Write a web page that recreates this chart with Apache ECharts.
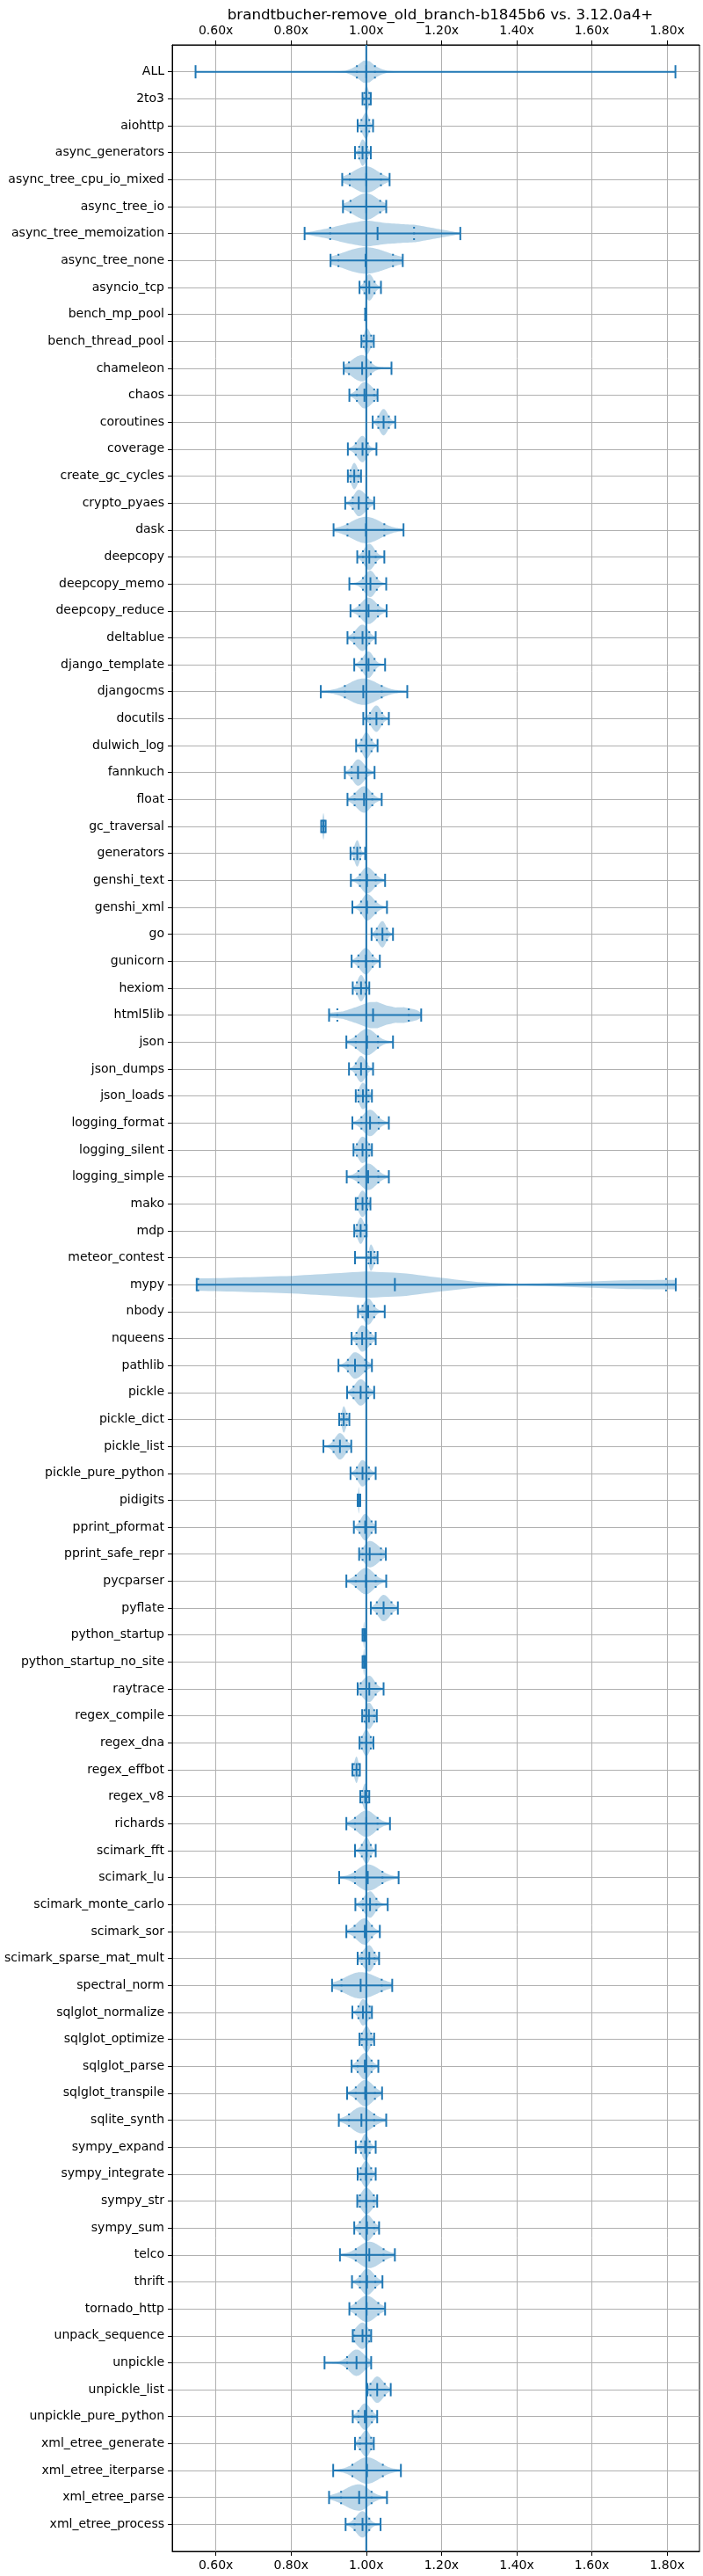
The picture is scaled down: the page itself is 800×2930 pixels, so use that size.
<!DOCTYPE html>
<html>
<head>
<meta charset="utf-8">
<script src="https://cdn.jsdelivr.net/npm/echarts@6/dist/echarts.min.js"></script>
<style>
  html, body { margin: 0; padding: 0; background: #fff; }
  #chart { width: 800px; height: 2930px; }
</style>
</head>
<body>
<div id="chart"></div>
<script>
// benchmark names, top to bottom
const benchmarks = [
  'ALL', '2to3', 'aiohttp', 'async_generators', 'async_tree_cpu_io_mixed', 'async_tree_io',
  'async_tree_memoization', 'async_tree_none', 'asyncio_tcp', 'bench_mp_pool', 'bench_thread_pool',
  'chameleon', 'chaos', 'coroutines', 'coverage', 'create_gc_cycles', 'crypto_pyaes', 'dask',
  'deepcopy', 'deepcopy_memo', 'deepcopy_reduce', 'deltablue', 'django_template', 'djangocms',
  'docutils', 'dulwich_log', 'fannkuch', 'float', 'gc_traversal', 'generators', 'genshi_text',
  'genshi_xml', 'go', 'gunicorn', 'hexiom', 'html5lib', 'json', 'json_dumps', 'json_loads',
  'logging_format', 'logging_silent', 'logging_simple', 'mako', 'mdp', 'meteor_contest', 'mypy',
  'nbody', 'nqueens', 'pathlib', 'pickle', 'pickle_dict', 'pickle_list', 'pickle_pure_python',
  'pidigits', 'pprint_pformat', 'pprint_safe_repr', 'pycparser', 'pyflate', 'python_startup',
  'python_startup_no_site', 'raytrace', 'regex_compile', 'regex_dna', 'regex_effbot', 'regex_v8',
  'richards', 'scimark_fft', 'scimark_lu', 'scimark_monte_carlo', 'scimark_sor',
  'scimark_sparse_mat_mult', 'spectral_norm', 'sqlglot_normalize', 'sqlglot_optimize',
  'sqlglot_parse', 'sqlglot_transpile', 'sqlite_synth', 'sympy_expand', 'sympy_integrate',
  'sympy_str', 'sympy_sum', 'telco', 'thrift', 'tornado_http', 'unpack_sequence', 'unpickle',
  'unpickle_list', 'unpickle_pure_python', 'xml_etree_generate', 'xml_etree_iterparse',
  'xml_etree_parse', 'xml_etree_process'
];

// per benchmark: extrema, low/high quantile and median (x faster)
const mins = [
  0.546, 0.990, 0.977, 0.970, 0.936, 0.938, 0.836, 0.905, 0.982, 0.997, 0.987,
  0.940, 0.955, 1.017, 0.951, 0.951, 0.944, 0.913, 0.976, 0.955, 0.958, 0.950,
  0.968, 0.879, 0.992, 0.973, 0.943, 0.950, 0.880, 0.958, 0.959, 0.963, 1.014,
  0.961, 0.964, 0.901, 0.947, 0.954, 0.972, 0.963, 0.966, 0.948, 0.972, 0.968,
  0.970, 0.549, 0.978, 0.961, 0.926, 0.949, 0.928, 0.886, 0.958, 0.977, 0.967,
  0.981, 0.947, 1.012, 0.990, 0.990, 0.977, 0.989, 0.982, 0.963, 0.984, 0.947,
  0.970, 0.928, 0.971, 0.947, 0.977, 0.909, 0.963, 0.982, 0.961, 0.949, 0.927,
  0.972, 0.977, 0.976, 0.968, 0.930, 0.962, 0.955, 0.964, 0.889, 1.003, 0.964,
  0.970, 0.912, 0.901, 0.945
];
const lowQ = [
  0.975, 0.995, 0.987, 0.981, 0.956, 0.958, 0.904, 0.926, 0.995, 0.9975, 0.993,
  0.954, 0.975, 1.032, 0.972, 0.958, 0.964, 0.950, 0.991, 0.991, 0.982, 0.968,
  0.988, 0.943, 1.010, 0.987, 0.961, 0.969, 0.883, 0.967, 0.983, 0.986, 1.028,
  0.979, 0.975, 0.923, 0.972, 0.972, 0.979, 0.987, 0.975, 0.979, 0.977, 0.975,
  1.006, 0.553, 0.990, 0.974, 0.951, 0.966, 0.934, 0.913, 0.975, 0.978, 0.982,
  0.990, 0.972, 1.028, 0.992, 0.992, 0.985, 0.995, 0.988, 0.967, 0.989, 0.970,
  0.988, 0.970, 0.991, 0.969, 0.988, 0.934, 0.979, 0.988, 0.977, 0.972, 0.954,
  0.986, 0.985, 0.983, 0.983, 0.972, 0.983, 0.972, 0.968, 0.949, 1.011, 0.979,
  0.983, 0.963, 0.933, 0.969
];
const medians = [
  1.000, 1.000, 1.000, 0.990, 1.000, 1.000, 1.030, 0.998, 1.008, 0.998, 1.001,
  0.989, 0.995, 1.046, 0.990, 0.968, 0.980, 0.999, 1.008, 1.011, 1.006, 0.990,
  1.006, 0.992, 1.027, 1.000, 0.978, 0.994, 0.886, 0.976, 1.002, 1.002, 1.043,
  0.999, 0.986, 1.018, 1.002, 0.986, 0.991, 1.010, 0.990, 1.005, 0.990, 0.985,
  1.012, 1.076, 1.005, 0.989, 0.970, 0.985, 0.940, 0.930, 0.990, 0.980, 0.997,
  1.009, 0.999, 1.046, 0.994, 0.994, 1.008, 1.007, 1.000, 0.974, 0.997, 1.000,
  1.001, 1.004, 1.010, 0.996, 1.008, 0.985, 0.991, 1.001, 0.996, 0.997, 0.987,
  0.997, 0.999, 1.000, 1.002, 1.008, 1.002, 1.001, 0.990, 0.974, 1.029, 0.996,
  1.000, 1.002, 0.981, 0.990
];
const highQ = [
  1.023, 1.008, 1.008, 1.002, 1.039, 1.037, 1.127, 1.071, 1.022, 0.9985, 1.013,
  1.012, 1.021, 1.060, 1.004, 0.979, 1.004, 1.048, 1.025, 1.028, 1.031, 1.008,
  1.022, 1.041, 1.042, 1.014, 0.999, 1.016, 0.889, 0.984, 1.025, 1.025, 1.055,
  1.017, 0.998, 1.113, 1.031, 1.001, 1.006, 1.033, 1.008, 1.032, 1.003, 0.996,
  1.022, 1.797, 1.021, 1.011, 0.997, 1.005, 0.948, 0.948, 1.007, 0.982, 1.014,
  1.039, 1.025, 1.067, 0.996, 0.996, 1.025, 1.021, 1.012, 0.980, 1.004, 1.030,
  1.012, 1.043, 1.027, 1.015, 1.022, 1.041, 1.009, 1.013, 1.014, 1.023, 1.021,
  1.009, 1.013, 1.020, 1.021, 1.046, 1.024, 1.032, 1.008, 1.000, 1.049, 1.015,
  1.013, 1.044, 1.014, 1.008
];
const maxs = [
  1.822, 1.012, 1.018, 1.012, 1.062, 1.053, 1.250, 1.097, 1.039, 0.999, 1.020,
  1.067, 1.030, 1.077, 1.027, 0.986, 1.021, 1.099, 1.048, 1.053, 1.054, 1.025,
  1.050, 1.109, 1.060, 1.030, 1.022, 1.041, 0.892, 0.997, 1.050, 1.055, 1.071,
  1.036, 1.008, 1.146, 1.071, 1.018, 1.015, 1.060, 1.015, 1.060, 1.011, 1.001,
  1.030, 1.823, 1.049, 1.025, 1.015, 1.021, 0.955, 0.960, 1.025, 0.984, 1.025,
  1.052, 1.053, 1.084, 0.998, 0.998, 1.046, 1.028, 1.019, 0.983, 1.008, 1.063,
  1.025, 1.086, 1.057, 1.036, 1.034, 1.069, 1.015, 1.021, 1.032, 1.042, 1.053,
  1.025, 1.025, 1.029, 1.034, 1.076, 1.043, 1.050, 1.013, 1.013, 1.065, 1.029,
  1.020, 1.092, 1.055, 1.038
];

// body outlines read off the picture where the density is not a single hump
// [x, relative half width]
const shapes = {
  'ALL': [[0.546, 0], [0.90, 0.01], [0.95, 0.08], [0.975, 0.45], [1.0, 1.0], [1.025, 0.42],
          [1.05, 0.08], [1.10, 0.01], [1.822, 0]],
  'async_tree_memoization': [[0.836, 0.05], [0.90, 0.4], [0.95, 0.75], [1.0, 1.0], [1.05, 0.8],
          [1.10, 0.7], [1.13, 0.66], [1.20, 0.3], [1.25, 0.05]],
  'html5lib': [[0.901, 0.18], [0.938, 0.28], [0.977, 0.65], [1.008, 0.98], [1.028, 1.0],
          [1.055, 0.72], [1.078, 0.58], [1.10, 0.6], [1.133, 0.4], [1.146, 0.2]],
  'mypy': [[0.549, 0.47], [0.6, 0.49], [0.8, 0.66], [1.0, 1.0], [1.1, 0.87], [1.2, 0.51],
          [1.3, 0.19], [1.4, 0.06], [1.5, 0.13], [1.6, 0.24], [1.7, 0.34], [1.8, 0.36], [1.823, 0.36]]
};

const xTicks = [0.6, 0.8, 1.0, 1.2, 1.4, 1.6, 1.8];
const baseline = 1.0;
const X_MIN = 0.484, X_MAX = 1.886;

const BLUE = '#1f77b4';
const BODY_HALF = 0.49;   // in row units
const CAP_HALF = 0.245;
const FONT = '"DejaVu Sans", sans-serif';

function bodyWidth(i, x) {
  const s = shapes[benchmarks[i]];
  if (s) {
    for (let k = 1; k < s.length; k++) {
      if (x <= s[k][0]) {
        const t = (x - s[k - 1][0]) / (s[k][0] - s[k - 1][0]);
        return s[k - 1][1] + t * (s[k][1] - s[k - 1][1]);
      }
    }
    return s[s.length - 1][1];
  }
  const med = medians[i];
  let sd = x < med ? (med - lowQ[i]) / 1.28 : (highQ[i] - med) / 1.28;
  sd = Math.max(sd, 0.0005);
  const d = (x - med) / sd;
  return 0.06 + 0.94 * Math.exp(-0.5 * d * d);
}

function renderViolin(params, api) {
  const i = params.dataIndex;
  const pos = i + 1;
  const lo = mins[i], hi = maxs[i];
  const n = 80;
  const top = [], bottom = [];
  for (let k = 0; k <= n; k++) {
    const x = lo + (hi - lo) * k / n;
    const w = BODY_HALF * bodyWidth(i, x);
    top.push(api.coord([x, pos - w]));
    bottom.unshift(api.coord([x, pos + w]));
  }
  const children = [{
    type: 'polygon',
    shape: { points: top.concat(bottom) },
    style: { fill: 'rgba(31,119,180,0.3)', stroke: null }
  }];
  const vline = (x, dash) => {
    const a = api.coord([x, pos - CAP_HALF]);
    const b = api.coord([x, pos + CAP_HALF]);
    const st = { stroke: BLUE, lineWidth: 2 };
    if (dash) {
      const L = Math.abs(b[1] - a[1]);
      st.lineDash = [2, (L - 6) / 2];
    }
    return { type: 'line', shape: { x1: a[0], y1: a[1], x2: b[0], y2: b[1] }, style: st };
  };
  const p0 = api.coord([lo, pos]), p1 = api.coord([hi, pos]);
  children.push({ type: 'line', shape: { x1: p0[0], y1: p0[1], x2: p1[0], y2: p1[1] },
                  style: { stroke: BLUE, lineWidth: 2 } });
  children.push(vline(lo), vline(hi), vline(medians[i]));
  children.push(vline(lowQ[i], true), vline(highQ[i], true));
  return { type: 'group', children: children };
}

const yTicks = benchmarks.map((_, i) => i + 1);

const xAxisCommon = {
  type: 'value',
  min: X_MIN,
  max: X_MAX,
  axisLine: { show: true, onZero: false, lineStyle: { color: '#000', width: 1 } },
  axisTick: { show: true, customValues: xTicks, length: 5, lineStyle: { color: '#000', width: 1 } },
  axisLabel: {
    customValues: xTicks,
    formatter: v => v.toFixed(2) + 'x',
    fontSize: 14, color: '#000', fontFamily: FONT, margin: 9, hideOverlap: false
  }
};

const chart = echarts.init(document.getElementById('chart'), null, { renderer: 'canvas' });
chart.setOption({
  animation: false,
  backgroundColor: '#fff',
  title: {
    text: 'brandtbucher-remove_old_branch-b1845b6 vs. 3.12.0a4+',
    left: 496, top: 4, textAlign: 'center',
    textStyle: { fontSize: 16.7, fontWeight: 'normal', color: '#000', fontFamily: FONT }
  },
  grid: {
    left: 196, right: 4, top: 51, bottom: 28,
    show: true, borderColor: '#000', borderWidth: 1,
    outerBoundsMode: 'none'
  },
  xAxis: [
    Object.assign({}, xAxisCommon, {
      position: 'bottom',
      splitLine: { show: true, lineStyle: { color: '#b0b0b0', width: 1 } }
    }),
    Object.assign({}, xAxisCommon, {
      position: 'top',
      splitLine: { show: false }
    })
  ],
  yAxis: {
    type: 'value',
    min: 0, max: 93, inverse: true,
    axisLine: { show: true, onZero: false, lineStyle: { color: '#000', width: 1 } },
    axisTick: { show: true, customValues: yTicks, length: 5, lineStyle: { color: '#000', width: 1 } },
    axisLabel: {
      customValues: yTicks,
      formatter: v => benchmarks[Math.round(v) - 1] || '',
      fontSize: 14, color: '#000', fontFamily: FONT, margin: 9, hideOverlap: false
    },
    splitLine: { show: true, lineStyle: { color: '#b0b0b0', width: 1 } }
  },
  series: [
    {
      type: 'custom',
      renderItem: renderViolin,
      xAxisIndex: 0,
      encode: { x: [1, 2], y: 0 },
      data: benchmarks.map((_, i) => [i + 1, mins[i], maxs[i]]),
      clip: false,
      z: 2
    },
    {
      type: 'line',
      xAxisIndex: 0,
      data: [[baseline, 0], [baseline, 93]],
      symbol: 'none',
      lineStyle: { color: BLUE, width: 2 },
      silent: true,
      z: 5
    }
  ]
});
</script>
</body>
</html>
